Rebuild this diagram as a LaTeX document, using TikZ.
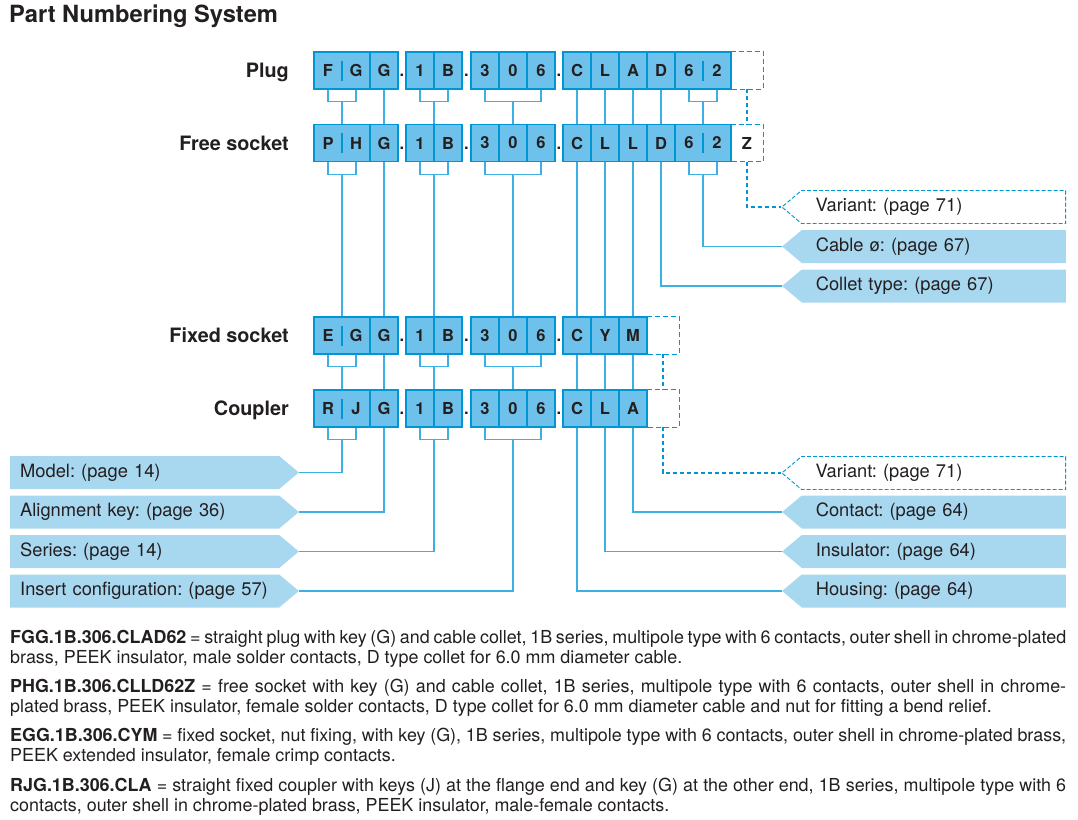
\documentclass[tikz,border=0pt]{standalone}
\usepackage{fontspec}
\setmainfont{TeX Gyre Heros}
\usetikzlibrary{shapes.symbols}
\definecolor{cellfill}{RGB}{110,193,234}
\definecolor{cellrule}{RGB}{0,150,212}
\definecolor{tagfill}{RGB}{168,215,240}
\definecolor{linkcol}{RGB}{60,176,226}
\definecolor{ink}{RGB}{35,31,32}

\tikzset{
  cell/.style={draw=cellrule, fill=cellfill, line width=1.3pt, minimum width=28pt,
    minimum height=37pt, inner sep=0pt, text=ink, font=\bfseries\fontsize{16.5}{16.5}\selectfont},
  halfpair/.style={cell, minimum width=56pt, path picture={
    \draw[cellrule, line width=1.3pt] ([yshift=-10pt]path picture bounding box.center)
      -- ([yshift=10pt]path picture bounding box.center);}},
  fullpair/.style={cell, minimum width=56pt, path picture={
    \draw[cellrule, line width=1.3pt] (path picture bounding box.north)
      -- (path picture bounding box.south);}},
  triple/.style={cell, minimum width=84pt, path picture={
    \draw[cellrule, line width=1.3pt]
      ([xshift=-14pt]path picture bounding box.north) -- ([xshift=-14pt]path picture bounding box.south)
      ([xshift=14pt]path picture bounding box.north) -- ([xshift=14pt]path picture bounding box.south);}},
  varbox/.style={minimum width=32pt, minimum height=37pt, inner sep=0pt, text=ink,
    font=\bfseries\fontsize{16.5}{16.5}\selectfont},
  dashbox/.style={cellrule, line width=1.3pt, dash pattern=on 5pt off 3pt},
  dot/.style={inner sep=0pt, text=ink, font=\bfseries\fontsize{16.5}{16.5}\selectfont},
  rowname/.style={inner sep=0pt, text=ink, font=\bfseries\fontsize{19.8}{19.8}\selectfont},
  link/.style={linkcol, line width=1.1pt},
  dashlink/.style={cellrule, line width=1.1pt, dash pattern=on 4pt off 3pt},
  ltag/.style={signal, signal to=east, signal pointer angle=80, fill=tagfill,
    minimum height=33pt, text width=249pt, inner xsep=10pt, inner ysep=0pt, align=left,
    text=ink, font=\fontsize{18.3}{20}\selectfont},
  rtag/.style={signal, signal to=west, signal pointer angle=80, fill=tagfill,
    minimum height=33pt, text width=236pt, inner xsep=14pt, inner ysep=0pt, align=left,
    text=ink, font=\fontsize{18.3}{20}\selectfont},
  vartag/.style={rtag, fill=white, draw=cellrule, line width=0.9pt, dash pattern=on 4pt off 2pt},
  para/.style={inner sep=0pt, text width=1056pt, align=justify, text=ink,
    font=\fontsize{17.9}{20}\selectfont}
}

\begin{document}
\frenchspacing
\begin{tikzpicture}[x=1pt,y=-1pt]
\useasboundingbox (0,0) rectangle (1078,819);

\node[anchor=base west, inner sep=0pt, text=ink, font=\bfseries\fontsize{23.7}{23.7}\selectfont] (title) at (9,23) {Part Numbering System};

% row names
\node[rowname, anchor=base east] (pl-name) at (289,77.5) {Plug};
\node[rowname, anchor=base east] (fr-name) at (289,150) {Free socket};
\node[rowname, anchor=base east] (fx-name) at (289,342) {Fixed socket};
\node[rowname, anchor=base east] (cp-name) at (289,415) {Coupler};

% common front part of each reference
\foreach \r/\y/\ma/\mb in {pl/70.5/F/G, fr/143/P/H, fx/335.5/E/G, cp/408.5/R/J}{
  \node[halfpair] (\r-model) at (342,\y) {\makebox[28pt]{\ma}\makebox[28pt]{\mb}};
  \node[cell] (\r-key) at (384,\y) {G};
  \node[fullpair] (\r-series) at (434,\y) {\makebox[28pt]{1}\makebox[28pt]{B}};
  \node[triple] (\r-insert) at (513,\y) {\makebox[28pt]{3}\makebox[28pt]{0}\makebox[28pt]{6}};
  \node[dot, anchor=base] (\r-dot1) at (402,{\y+6}) {.};
  \node[dot, anchor=base] (\r-dot2) at (466.5,{\y+6}) {.};
  \node[dot, anchor=base] (\r-dot3) at (559,{\y+6}) {.};
}

% plug
\node[cell] (pl-housing) at (577,70.5) {C};
\node[cell] (pl-insul) at (605,70.5) {L};
\node[cell] (pl-contact) at (633,70.5) {A};
\node[cell] (pl-collet) at (661,70.5) {D};
\node[halfpair] (pl-cable) at (703,70.5) {\makebox[28pt]{6}\makebox[28pt]{2}};
\node[varbox] (pl-var) at (747,70.5) {};

% free socket
\node[cell] (fr-housing) at (577,143) {C};
\node[cell] (fr-insul) at (605,143) {L};
\node[cell] (fr-contact) at (633,143) {L};
\node[cell] (fr-collet) at (661,143) {D};
\node[halfpair] (fr-cable) at (703,143) {\makebox[28pt]{6}\makebox[28pt]{2}};
\node[varbox] (fr-var) at (747,143) {Z};

% fixed socket
\node[cell] (fx-housing) at (577,335.5) {C};
\node[cell] (fx-insul) at (605,335.5) {Y};
\node[cell] (fx-contact) at (633,335.5) {M};
\node[varbox] (fx-var) at (663,335.5) {};

% coupler
\node[cell] (cp-housing) at (577,408.5) {C};
\node[cell] (cp-insul) at (605,408.5) {L};
\node[cell] (cp-contact) at (633,408.5) {A};
\node[varbox] (cp-var) at (663,408.5) {};

\foreach \v in {pl-var, fr-var, fx-var, cp-var}
  \draw[dashbox] (\v.north west) -- (\v.north east) -- (\v.south east) -- (\v.south west);

% tags
\node[ltag, anchor=west] (tag-model) at (10,472.5) {Model: (page 14)};
\node[ltag, anchor=west] (tag-key) at (10,512) {Alignment key: (page 36)};
\node[ltag, anchor=west] (tag-series) at (10,551.5) {Series: (page 14)};
\node[ltag, anchor=west] (tag-insert) at (10,591) {Insert configuration: (page 57)};
\node[vartag, anchor=east] (tag-var2) at (1066,207) {Variant: (page 71)};
\node[rtag, anchor=east] (tag-cable) at (1066,246.5) {Cable ø: (page 67)};
\node[rtag, anchor=east] (tag-collet) at (1066,286) {Collet type: (page 67)};
\node[vartag, anchor=east] (tag-var) at (1066,473) {Variant: (page 71)};
\node[rtag, anchor=east] (tag-contact) at (1066,512) {Contact: (page 64)};
\node[rtag, anchor=east] (tag-insul) at (1066,551.5) {Insulator: (page 64)};
\node[rtag, anchor=east] (tag-housing) at (1066,591) {Housing: (page 64)};

% brackets under grouped cells
\foreach \n/\w in {pl-model/14, pl-series/14, pl-insert/28, pl-cable/14,
                   fr-model/14, fr-series/14, fr-insert/28, fr-cable/14,
                   fx-model/14, fx-series/14, fx-insert/28,
                   cp-model/14, cp-series/14, cp-insert/28}
  \draw[link] ([xshift=-\w pt]\n.south) |- ([yshift=-12pt]\n.south) coordinate (\n-k)
    -| ([xshift=\w pt]\n.south);

% row to row
\foreach \a/\b in {pl-model-k/fr-model.north, pl-key.south/fr-key.north,
                   pl-series-k/fr-series.north, pl-insert-k/fr-insert.north,
                   pl-housing.south/fr-housing.north, pl-insul.south/fr-insul.north,
                   pl-contact.south/fr-contact.north, pl-collet.south/fr-collet.north,
                   pl-cable-k/fr-cable.north,
                   fr-model-k/fx-model.north, fr-key.south/fx-key.north,
                   fr-series-k/fx-series.north, fr-insert-k/fx-insert.north,
                   fr-housing.south/fx-housing.north, fr-insul.south/fx-insul.north,
                   fr-contact.south/fx-contact.north,
                   fx-model-k/cp-model.north, fx-key.south/cp-key.north,
                   fx-series-k/cp-series.north, fx-insert-k/cp-insert.north,
                   fx-housing.south/cp-housing.north, fx-insul.south/cp-insul.north,
                   fx-contact.south/cp-contact.north}
  \draw[link] (\a) -- (\b);
\draw[dashlink] (pl-var.south) -- (fr-var.north);
\draw[dashlink] (fx-var.south) -- (cp-var.north);

% rows to tags
\draw[dashlink] (fr-var.south) |- (tag-var2.west);
\draw[link] (fr-cable-k) |- (tag-cable.west);
\draw[link] (fr-collet.south) |- (tag-collet.west);
\draw[link] (cp-model-k) |- (tag-model.east);
\draw[link] (cp-key.south) |- (tag-key.east);
\draw[link] (cp-series-k) |- (tag-series.east);
\draw[link] (cp-insert-k) |- (tag-insert.east);
\draw[dashlink] (cp-var.south) |- (tag-var.west);
\draw[link] (cp-contact.south) |- (tag-contact.west);
\draw[link] (cp-insul.south) |- (tag-insul.west);
\draw[link] (cp-housing.south) |- (tag-housing.west);

% examples
\node[para, anchor=base west] (ex-plug) at (10,643.5) {\textbf{FGG.1B.306.CLAD62} = straight plug with key (G) and cable collet, 1B series, multipole type with 6 contacts, outer shell in chrome-plated\linebreak brass, PEEK insulator, male solder contacts, D type collet for 6.0 mm diameter cable.};
\node[para, anchor=base west] (ex-free) at (10,692.5) {\textbf{PHG.1B.306.CLLD62Z} = free socket with key (G) and cable collet, 1B series, multipole type with 6 contacts, outer shell in chrome-\linebreak plated brass, PEEK insulator, female solder contacts, D type collet for 6.0 mm diameter cable and nut for fitting a bend relief.};
\node[para, anchor=base west] (ex-fixed) at (10,741) {\textbf{EGG.1B.306.CYM} = fixed socket, nut fixing, with key (G), 1B series, multipole type with 6 contacts, outer shell in chrome-plated brass,\linebreak PEEK extended insulator, female crimp contacts.};
\node[para, anchor=base west] (ex-coupler) at (10,791.5) {\textbf{RJG.1B.306.CLA} = straight fixed coupler with keys (J) at the flange end and key (G) at the other end, 1B series, multipole type with 6\linebreak contacts, outer shell in chrome-plated brass, PEEK insulator, male-female contacts.};

\end{tikzpicture}
\end{document}
